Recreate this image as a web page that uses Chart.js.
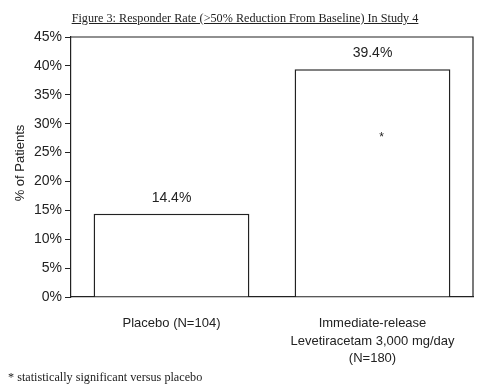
<!DOCTYPE html>
<html lang="en">
<head>
  <meta charset="UTF-8">
  <title>Responder Rate In Study 4</title>
  <script src="https://cdn.jsdelivr.net/npm/chart.js"></script>
  <style>
    body { margin: 0; background: #fff; }
    #wrap { position: relative; width: 481px; height: 390px; }
    #title {
      position: absolute; left: 0; width: 490px; top: 11px; text-align: center;
      font-family: "Liberation Serif", serif; font-size: 12.2px; color: #222;
      text-decoration: underline;
    }
    #note {
      position: absolute; left: 8px; top: 370px;
      font-family: "Liberation Serif", serif; font-size: 12.2px; color: #222;
    }
  </style>
</head>
<body>
  <div id="wrap">
    <canvas id="chart" width="481" height="390"></canvas>
    <div id="title">Figure 3: Responder Rate (&gt;50% Reduction From Baseline) In Study 4</div>
    <div id="note">* statistically significant versus placebo</div>
  </div>

  <script>
    const categories = [
      ["Placebo (N=104)"],
      ["Immediate-release", "Levetiracetam 3,000 mg/day", "(N=180)"]
    ];
    const responderRate = [14.4, 39.4];
    const significant = [false, true];
    const yTicks = [0, 5, 10, 15, 20, 25, 30, 35, 40, 45];

    const font = '"Liberation Sans Narrow", "Arial Narrow", "Liberation Sans", sans-serif';
    const ink = "#222";

    // frame, bar labels, asterisk and axis title
    const extras = {
      id: "extras",
      afterDraw(chart) {
        const ctx = chart.ctx;
        const a = chart.chartArea;
        ctx.save();
        ctx.strokeStyle = ink;
        ctx.lineWidth = 1.2;
        ctx.beginPath();
        ctx.moveTo(a.left, a.top);
        ctx.lineTo(a.right, a.top);
        ctx.lineTo(a.right, a.bottom);
        ctx.stroke();

        const meta = chart.getDatasetMeta(0);
        ctx.fillStyle = ink;
        ctx.textAlign = "center";
        ctx.textBaseline = "alphabetic";
        meta.data.forEach((bar, i) => {
          ctx.font = "14px " + font;
          ctx.fillText(responderRate[i].toFixed(1) + "%", bar.x, bar.y - 12);
          if (significant[i]) {
            ctx.font = "12px " + font;
            ctx.fillText("*", bar.x + 9, bar.y + 72);
          }
        });

        ctx.font = "13px " + font;
        ctx.translate(20, 163);
        ctx.rotate(-Math.PI / 2);
        ctx.textBaseline = "middle";
        ctx.fillText("% of Patients", 0, 0);
        ctx.restore();
      }
    };

    new Chart(document.getElementById("chart"), {
      type: "bar",
      data: {
        labels: categories,
        datasets: [{
          data: responderRate,
          backgroundColor: "#fff",
          borderColor: ink,
          borderWidth: 1.5,
          categoryPercentage: 1,
          barPercentage: 0.775
        }]
      },
      options: {
        responsive: false,
        animation: false,
        layout: { padding: { top: 37, right: 8, left: 0, bottom: 0 } },
        plugins: { legend: { display: false }, tooltip: { enabled: false } },
        scales: {
          x: {
            grid: { display: false, drawTicks: false },
            border: { color: ink, width: 1.2 },
            ticks: { color: ink, padding: 18, font: { family: font, size: 13, lineHeight: 1.35 } },
            afterFit(s) { s.height = 93; }
          },
          y: {
            min: 0,
            max: 45,
            afterBuildTicks(s) { s.ticks = yTicks.map(v => ({ value: v })); },
            grid: { drawOnChartArea: false, tickLength: 6, color: ink },
            border: { color: ink, width: 1.2 },
            ticks: {
              color: ink, padding: 3,
              font: { family: font, size: 14 },
              callback: v => v + "%"
            },
            afterFit(s) { s.width = 71; }
          }
        }
      },
      plugins: [extras]
    });
  </script>
</body>
</html>
